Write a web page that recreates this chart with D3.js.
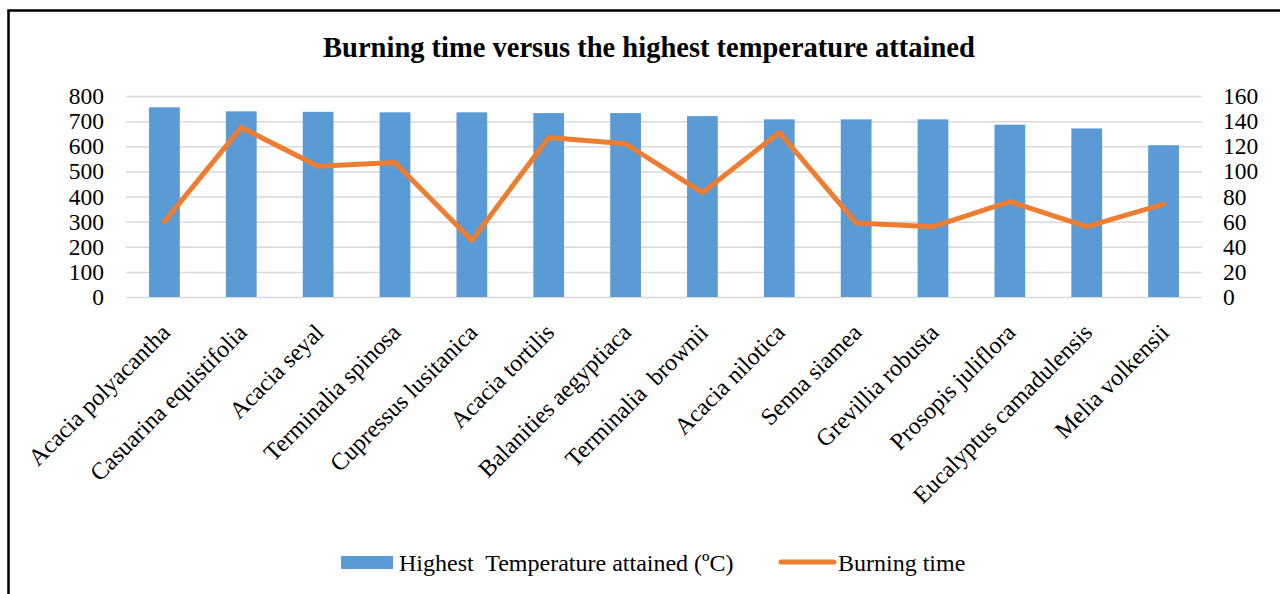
<!DOCTYPE html>
<html>
<head>
<meta charset="utf-8">
<script src="https://cdn.jsdelivr.net/npm/d3@7"></script>
<style>
  body { margin: 0; background: #fff; }
  svg { display: block; font-family: "Liberation Serif", "Times New Roman", serif; }
  .grid line { stroke: #d9d9d9; stroke-width: 1.5; }
  .grid path { display: none; }
  .axis path, .axis line { display: none; }
  .axis text { font-size: 23.5px; fill: #000; font-family: "Liberation Serif", serif; }
</style>
</head>
<body>
<div id="chart"></div>
<script>
var species = ["Acacia polyacantha", "Casuarina equistifolia", "Acacia seyal", "Terminalia spinosa",
  "Cupressus lusitanica", "Acacia tortilis", "Balanities aegyptiaca", "Terminalia  brownii",
  "Acacia nilotica", "Senna siamea", "Grevillia robusta", "Prosopis juliflora",
  "Eucalyptus camadulensis", "Melia volkensii"];
var highestTemp = [755, 739, 737, 735, 735, 732, 732, 720, 707, 707, 707, 686, 671, 604];
var burningTime = [60, 135, 104, 107, 45, 127, 122, 83, 131, 59, 56, 76, 56, 74];
var leftTicks = [0, 100, 200, 300, 400, 500, 600, 700, 800];
var rightTicks = [0, 20, 40, 60, 80, 100, 120, 140, 160];

var vars = { width: 1280, height: 594 };
vars.plot = { left: 126, right: 1202, top: 96, bottom: 297 };

var svg = d3.select("#chart").append("svg")
  .attr("width", vars.width)
  .attr("height", vars.height);

// frame (only left and top edges visible in the crop)
svg.append("path")
  .attr("d", "M8.5," + vars.height + "V10.5H" + vars.width)
  .attr("fill", "none")
  .attr("stroke", "#000")
  .attr("stroke-width", 2.5);

svg.append("text")
  .attr("x", 649)
  .attr("y", 57)
  .attr("text-anchor", "middle")
  .attr("font-size", "28.5px")
  .attr("font-weight", "bold")
  .text("Burning time versus the highest temperature attained");

var x = d3.scaleBand()
  .domain(species)
  .range([vars.plot.left, vars.plot.right])
  .paddingInner(0.6)
  .paddingOuter(0.3);

var yLeft = d3.scaleLinear().domain([0, 800]).range([vars.plot.bottom, vars.plot.top]);
var yRight = d3.scaleLinear().domain([0, 160]).range([vars.plot.bottom, vars.plot.top]);

// gridlines
svg.append("g")
  .attr("class", "grid")
  .attr("transform", "translate(" + vars.plot.left + ",0)")
  .call(d3.axisLeft(yLeft).tickValues(leftTicks)
    .tickSize(-(vars.plot.right - vars.plot.left)).tickFormat(""));

// bars
svg.append("g").selectAll("rect")
  .data(highestTemp)
  .enter().append("rect")
  .attr("x", function(d, i) { return x(species[i]); })
  .attr("width", x.bandwidth())
  .attr("y", function(d) { return yLeft(d); })
  .attr("height", function(d) { return yLeft(0) - yLeft(d); })
  .attr("fill", "#5b9bd5");

// line
var line = d3.line()
  .x(function(d, i) { return x(species[i]) + x.bandwidth() / 2; })
  .y(function(d) { return yRight(d); });

svg.append("path")
  .datum(burningTime)
  .attr("d", line)
  .attr("fill", "none")
  .attr("stroke", "#ed7d31")
  .attr("stroke-width", 5)
  .attr("stroke-linejoin", "round")
  .attr("stroke-linecap", "round");

// left axis
svg.append("g")
  .attr("class", "axis")
  .attr("transform", "translate(104,0)")
  .call(d3.axisLeft(yLeft).tickValues(leftTicks).tickSize(0).tickPadding(0));

// right axis
svg.append("g")
  .attr("class", "axis")
  .attr("transform", "translate(1223,0)")
  .call(d3.axisRight(yRight).tickValues(rightTicks).tickSize(0).tickPadding(0));

// category labels
svg.append("g").selectAll("text")
  .data(species)
  .enter().append("text")
  .attr("transform", function(d) {
    var cx = x(d) + x.bandwidth() / 2 + 7;
    return "translate(" + cx + ",334) rotate(-45)";
  })
  .attr("text-anchor", "end")
  .attr("font-size", "24px")
  .attr("xml:space", "preserve")
  .style("white-space", "pre")
  .text(function(d) { return d; });

// legend
var legend = svg.append("g");
legend.append("rect")
  .attr("x", 341).attr("y", 556)
  .attr("width", 52).attr("height", 13)
  .attr("fill", "#5b9bd5");
legend.append("text")
  .attr("x", 399).attr("y", 571)
  .attr("font-size", "24px")
  .attr("xml:space", "preserve")
  .style("white-space", "pre")
  .text("Highest  Temperature attained (\u00baC)");
legend.append("line")
  .attr("x1", 781).attr("x2", 834)
  .attr("y1", 562).attr("y2", 562)
  .attr("stroke", "#ed7d31")
  .attr("stroke-width", 5)
  .attr("stroke-linecap", "round");
legend.append("text")
  .attr("x", 838).attr("y", 571)
  .attr("font-size", "24px")
  .text("Burning time");
</script>
</body>
</html>
